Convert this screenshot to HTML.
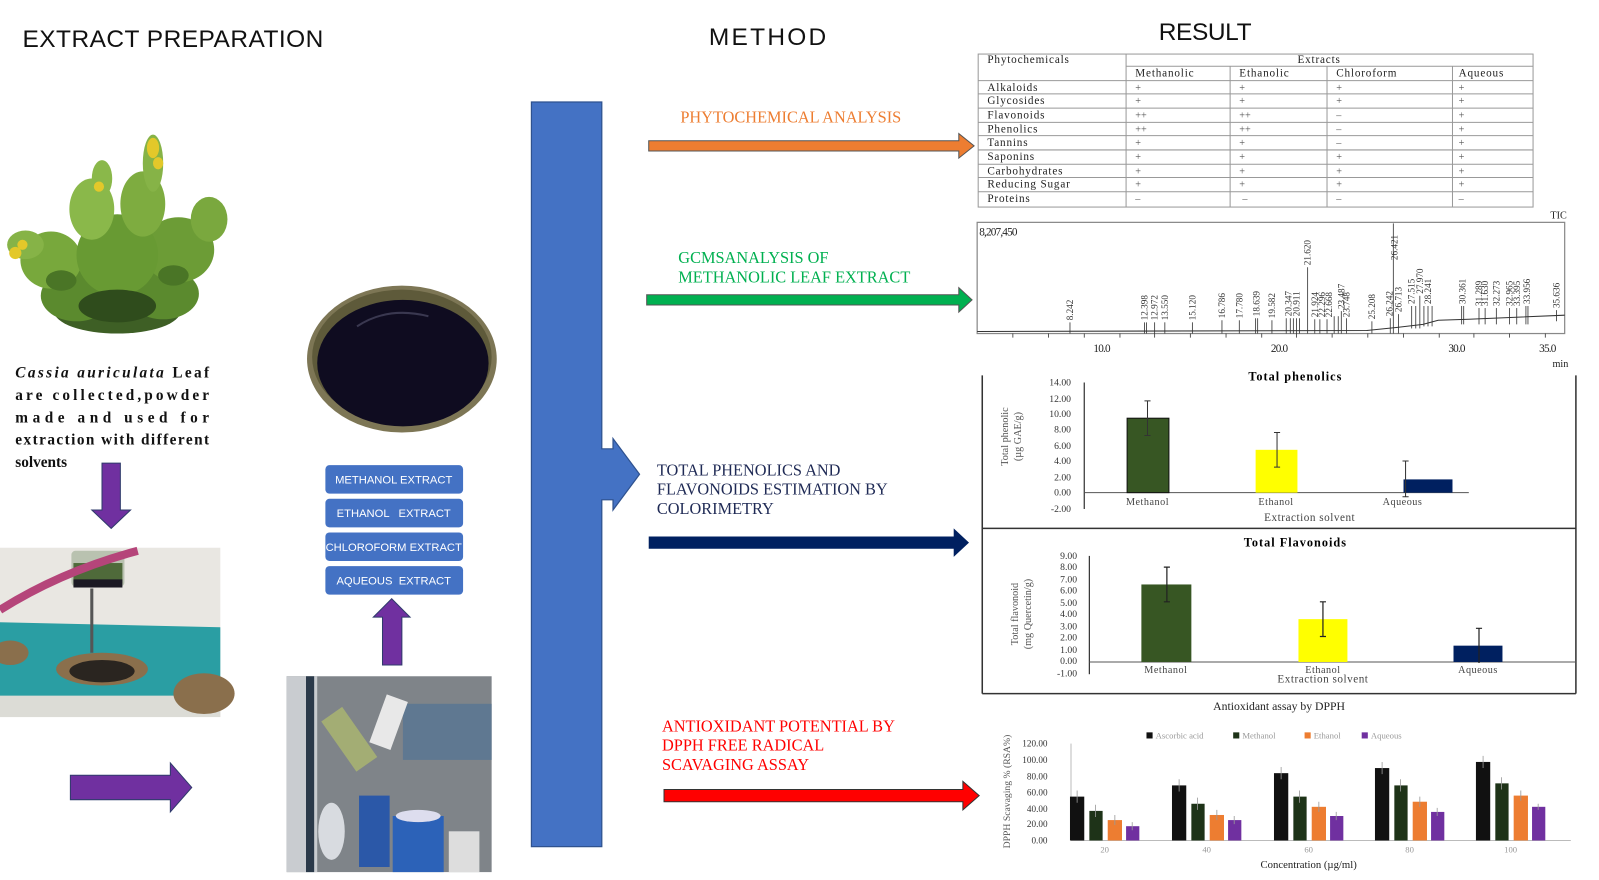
<!DOCTYPE html>
<html><head><meta charset="utf-8"><style>
html,body{margin:0;padding:0;background:#fff;}
svg{display:block;}
.s{font-family:"Liberation Sans",sans-serif;}
.r{font-family:"Liberation Serif",serif;}
</style></head><body>
<svg width="1599" height="880" viewBox="0 0 1599 880" xmlns="http://www.w3.org/2000/svg">
<rect width="1599" height="880" fill="#fff"/>
<g transform="scale(1.02)">
<!-- headers -->
<text x="22" y="46" class="s" font-size="24" textLength="295" fill="#111">EXTRACT PREPARATION</text>
<text x="695" y="44" class="s" font-size="24" textLength="115" fill="#111">METHOD</text>
<text x="1136" y="39" class="s" font-size="24" textLength="91" fill="#111">RESULT</text>

<!-- plant (bushy shrub) -->
<g>
<ellipse cx="115" cy="305" rx="62" ry="22" fill="#3e5f25"/>
<ellipse cx="75" cy="290" rx="35" ry="25" fill="#5b8a2e"/>
<ellipse cx="160" cy="288" rx="35" ry="25" fill="#5b8a2e"/>
<ellipse cx="50" cy="255" rx="30" ry="28" fill="#78a83c"/>
<ellipse cx="175" cy="245" rx="35" ry="32" fill="#6c9c36"/>
<ellipse cx="115" cy="250" rx="40" ry="40" fill="#689a33"/>
<ellipse cx="25" cy="240" rx="18" ry="14" fill="#86b347"/>
<ellipse cx="205" cy="215" rx="18" ry="22" fill="#7aa83e"/>
<ellipse cx="90" cy="205" rx="22" ry="30" fill="#8ab84a"/>
<ellipse cx="140" cy="200" rx="22" ry="32" fill="#7eac40"/>
<ellipse cx="150" cy="160" rx="10" ry="28" fill="#86b347"/>
<ellipse cx="100" cy="175" rx="10" ry="18" fill="#8ab84a"/>
<ellipse cx="150" cy="145" rx="6" ry="10" fill="#e3c82a"/>
<ellipse cx="155" cy="160" rx="5" ry="6" fill="#e3c82a"/>
<ellipse cx="97" cy="183" rx="5" ry="5" fill="#e3c82a"/>
<ellipse cx="15" cy="248" rx="6" ry="6" fill="#e3c82a"/>
<ellipse cx="22" cy="240" rx="5" ry="5" fill="#e3c82a"/>
<ellipse cx="115" cy="300" rx="38" ry="16" fill="#2f4c1c"/>
<ellipse cx="60" cy="275" rx="15" ry="10" fill="#4a7526"/>
<ellipse cx="170" cy="270" rx="15" ry="10" fill="#4a7526"/>
</g>
<!-- paragraph -->
<g class="r" font-size="15" font-weight="bold" fill="#111">
<text x="15" y="370" textLength="190" lengthAdjust="spacing"><tspan font-style="italic">Cassia auriculata</tspan> Leaf</text>
<text x="15" y="392" textLength="190" lengthAdjust="spacing">are collected,powder</text>
<text x="15" y="414" textLength="190" lengthAdjust="spacing">made and used for</text>
<text x="15" y="436" textLength="190" lengthAdjust="spacing">extraction with different</text>
<text x="15" y="458">solvents</text>
</g>
<!-- purple down arrow -->
<polygon points="100,454 118,454 118,500 128,500 109,518 90,500 100,500" fill="#7030a0" stroke="#2f3b6b" stroke-width="1"/>
<!-- soxhlet photo -->
<g>
<rect x="0" y="537" width="216" height="166" fill="#e9e7e2"/>
<polygon points="0,610 216,615 216,690 0,690" fill="#2a9ea3"/>
<rect x="0" y="682" width="216" height="21" fill="#dcdcd6"/>
<ellipse cx="100" cy="656" rx="45" ry="16" fill="#8a6f4c"/>
<ellipse cx="100" cy="658" rx="32" ry="11" fill="#2a2520"/>
<ellipse cx="200" cy="680" rx="30" ry="20" fill="#8a6f4c"/>
<ellipse cx="10" cy="640" rx="18" ry="12" fill="#8a6f4c"/>
<rect x="70" y="540" width="52" height="35" rx="4" fill="#b9c2b0"/>
<rect x="72" y="552" width="48" height="20" fill="#4f6a3a"/>
<rect x="72" y="568" width="48" height="8" fill="#1c1a24"/>
<path d="M90,577 V640" stroke="#555" stroke-width="3"/>
<path d="M0,598 Q60,560 135,540" stroke="#b5457a" stroke-width="8" fill="none"/>
</g>
<!-- purple right arrow -->
<polygon points="69,760 167,760 167,748 188,772 167,796 167,784 69,784" fill="#7030a0" stroke="#2f3b6b" stroke-width="1"/>
<!-- rotary photo -->
<g>
<rect x="281" y="663" width="201" height="192" fill="#7f8489"/>
<rect x="281" y="663" width="30" height="192" fill="#c9ccd0"/>
<rect x="300" y="663" width="8" height="192" fill="#2b3a4a"/>
<rect x="395" y="690" width="87" height="55" fill="#5f7891"/>
<rect x="330" y="695" width="25" height="60" fill="#a3ad74" transform="rotate(-35 342 725)"/>
<rect x="370" y="683" width="22" height="50" fill="#e8e8e8" transform="rotate(20 381 708)"/>
<rect x="352" y="780" width="30" height="70" fill="#2b58a8"/>
<rect x="385" y="800" width="50" height="55" fill="#2c62b8"/>
<ellipse cx="410" cy="800" rx="22" ry="6" fill="#dde"/>
<ellipse cx="325" cy="815" rx="13" ry="28" fill="#d8dbe0"/>
<rect x="440" y="815" width="30" height="40" fill="#ddd"/>
</g>
<!-- up arrow -->
<polygon points="375,652 394,652 394,605 402,605 384,587 366,605 375,605" fill="#7030a0" stroke="#2f3b6b" stroke-width="1"/>
<!-- extract boxes -->
<g class="s" font-size="11" fill="#fff" text-anchor="middle">
<rect x="319" y="456" width="135" height="28" rx="4" fill="#4472c4"/>
<text x="386" y="474">METHANOL EXTRACT</text>
<rect x="319" y="489" width="135" height="28" rx="4" fill="#4472c4"/>
<text x="386" y="507" xml:space="preserve">ETHANOL   EXTRACT</text>
<rect x="319" y="522" width="135" height="28" rx="4" fill="#4472c4"/>
<text x="386" y="540">CHLOROFORM EXTRACT</text>
<rect x="319" y="555" width="135" height="28" rx="4" fill="#4472c4"/>
<text x="386" y="573" xml:space="preserve">AQUEOUS  EXTRACT</text>
</g>
<!-- petri dish -->
<ellipse cx="394" cy="352" rx="93" ry="72" fill="#7d7655"/>
<ellipse cx="394" cy="350" rx="88" ry="66" fill="#5e5a3a"/>
<ellipse cx="395" cy="356" rx="84" ry="62" fill="#0f0c20"/>
<path d="M350,320 Q380,300 420,310" stroke="#3a3850" stroke-width="2" fill="none"/>

<!-- big blue bar + arrow -->
<polygon points="521,100 590,100 590,440 601,440 601,430 627,465 601,500 601,490 590,490 590,830 521,830" fill="#4472c4" stroke="#2f528f" stroke-width="1.2"/>

<!-- method labels & arrows -->
<g class="r" font-size="16">
<text x="667" y="120" fill="#ed7d31">PHYTOCHEMICAL ANALYSIS</text>
<text x="665" y="258" fill="#00b050">GCMSANALYSIS OF</text>
<text x="665" y="277" fill="#00b050">METHANOLIC LEAF EXTRACT</text>
<text x="644" y="466" fill="#1f2a55">TOTAL PHENOLICS AND</text>
<text x="644" y="485" fill="#1f2a55">FLAVONOIDS ESTIMATION BY</text>
<text x="644" y="504" fill="#1f2a55">COLORIMETRY</text>
<text x="649" y="717" fill="#ff0000">ANTIOXIDANT POTENTIAL BY</text>
<text x="649" y="736" fill="#ff0000">DPPH FREE RADICAL</text>
<text x="649" y="755" fill="#ff0000">SCAVAGING ASSAY</text>
</g>
<polygon points="636,138 940,138 940,131 955,143 940,155 940,148 636,148" fill="#ed7d31" stroke="#555" stroke-width="1"/>
<polygon points="634,289 940,289 940,282 953,294 940,306 940,299 634,299" fill="#00b050" stroke="#555" stroke-width="1"/>
<polygon points="636,526 935,526 935,518 950,532 935,546 935,538 636,538" fill="#002060"/>
<polygon points="651,774 944,774 944,766 960,780 944,794 944,786 651,786" fill="#ff0000" stroke="#333" stroke-width="1"/>

<!-- table -->
<g stroke="#999" stroke-width="1" fill="none">
<rect x="959" y="53" width="544" height="150"/>
<line x1="1104" y1="53" x2="1104" y2="203"/>
<line x1="1104" y1="65" x2="1503" y2="65"/>
<line x1="959" y1="79" x2="1503" y2="79"/>
<line x1="959" y1="92" x2="1503" y2="92"/>
<line x1="959" y1="106" x2="1503" y2="106"/>
<line x1="959" y1="120" x2="1503" y2="120"/>
<line x1="959" y1="133" x2="1503" y2="133"/>
<line x1="959" y1="147" x2="1503" y2="147"/>
<line x1="959" y1="161" x2="1503" y2="161"/>
<line x1="959" y1="174" x2="1503" y2="174"/>
<line x1="959" y1="188" x2="1503" y2="188"/>
<line x1="1206" y1="65" x2="1206" y2="203"/>
<line x1="1301" y1="65" x2="1301" y2="203"/>
<line x1="1424" y1="65" x2="1424" y2="203"/>
</g>
<g class="r" font-size="11" fill="#222" letter-spacing="0.8">
<text x="968" y="62">Phytochemicals</text>
<text x="1272" y="62">Extracts</text>
<text x="1113" y="75">Methanolic</text><text x="1215" y="75">Ethanolic</text><text x="1310" y="75">Chloroform</text><text x="1430" y="75">Aqueous</text>
<text x="968" y="89">Alkaloids</text>
<text x="968" y="102">Glycosides</text>
<text x="968" y="116">Flavonoids</text>
<text x="968" y="130">Phenolics</text>
<text x="968" y="143">Tannins</text>
<text x="968" y="157">Saponins</text>
<text x="968" y="171">Carbohydrates</text>
<text x="968" y="184">Reducing Sugar</text>
<text x="968" y="198">Proteins</text>
</g>
<g class="r" font-size="10" fill="#555">
<text x="1113" y="89">+</text><text x="1215" y="89">+</text><text x="1310" y="89">+</text><text x="1430" y="89">+</text>
<text x="1113" y="102">+</text><text x="1215" y="102">+</text><text x="1310" y="102">+</text><text x="1430" y="102">+</text>
<text x="1113" y="116">++</text><text x="1215" y="116">++</text><text x="1310" y="116">–</text><text x="1430" y="116">+</text>
<text x="1113" y="130">++</text><text x="1215" y="130">++</text><text x="1310" y="130">–</text><text x="1430" y="130">+</text>
<text x="1113" y="143">+</text><text x="1215" y="143">+</text><text x="1310" y="143">–</text><text x="1430" y="143">+</text>
<text x="1113" y="157">+</text><text x="1215" y="157">+</text><text x="1310" y="157">+</text><text x="1430" y="157">+</text>
<text x="1113" y="171">+</text><text x="1215" y="171">+</text><text x="1310" y="171">+</text><text x="1430" y="171">+</text>
<text x="1113" y="184">+</text><text x="1215" y="184">+</text><text x="1310" y="184">+</text><text x="1430" y="184">+</text>
<text x="1113" y="198">–</text><text x="1218" y="198">–</text><text x="1310" y="198">–</text><text x="1430" y="198">–</text>
</g>

<!-- GCMS -->
<rect x="958" y="218" width="576" height="109" fill="none" stroke="#888" stroke-width="1.2"/>
<text x="1520" y="214" class="r" font-size="10" fill="#222">TIC</text>
<text x="960" y="231" class="r" font-size="11" fill="#222" letter-spacing="-0.8">8,207,450</text>
<path d="M958,325 L1340,324 L1370,321 L1395,318 L1410,314 L1440,313 L1534,309" stroke="#333" stroke-width="1" fill="none"/>
<g stroke="#333" stroke-width="0.8">
<line x1="1049" y1="327" x2="1049" y2="316"/><line x1="1122" y1="327" x2="1122" y2="316"/><line x1="1124" y1="327" x2="1124" y2="316"/>
<line x1="1132" y1="327" x2="1132" y2="316"/><line x1="1142" y1="327" x2="1142" y2="316"/><line x1="1169" y1="327" x2="1169" y2="316"/>
<line x1="1198" y1="327" x2="1198" y2="314"/><line x1="1215" y1="327" x2="1215" y2="314"/><line x1="1231" y1="327" x2="1231" y2="312"/>
<line x1="1233" y1="327" x2="1233" y2="312"/><line x1="1247" y1="327" x2="1247" y2="314"/><line x1="1261" y1="327" x2="1261" y2="312"/>
<line x1="1265" y1="327" x2="1265" y2="312"/><line x1="1268" y1="327" x2="1268" y2="312"/><line x1="1271" y1="327" x2="1271" y2="312"/>
<line x1="1274" y1="327" x2="1274" y2="312"/><line x1="1282" y1="327" x2="1282" y2="262"/><line x1="1289" y1="327" x2="1289" y2="313"/>
<line x1="1294" y1="327" x2="1294" y2="313"/><line x1="1301" y1="327" x2="1301" y2="313"/><line x1="1308" y1="327" x2="1308" y2="310"/>
<line x1="1312" y1="327" x2="1312" y2="310"/><line x1="1315" y1="327" x2="1315" y2="305"/><line x1="1320" y1="327" x2="1320" y2="312"/>
<line x1="1345" y1="327" x2="1345" y2="315"/><line x1="1363" y1="327" x2="1363" y2="312"/><line x1="1366" y1="327" x2="1366" y2="219"/>
<line x1="1371" y1="327" x2="1371" y2="308"/><line x1="1384" y1="322" x2="1384" y2="300"/><line x1="1388" y1="322" x2="1388" y2="300"/>
<line x1="1392" y1="322" x2="1392" y2="290"/><line x1="1396" y1="320" x2="1396" y2="300"/><line x1="1400" y1="320" x2="1400" y2="300"/>
<line x1="1404" y1="320" x2="1404" y2="300"/><line x1="1433" y1="318" x2="1433" y2="300"/><line x1="1435" y1="318" x2="1435" y2="300"/>
<line x1="1450" y1="318" x2="1450" y2="302"/><line x1="1456" y1="318" x2="1456" y2="302"/><line x1="1467" y1="318" x2="1467" y2="302"/>
<line x1="1480" y1="318" x2="1480" y2="302"/><line x1="1487" y1="318" x2="1487" y2="302"/><line x1="1496" y1="318" x2="1496" y2="300"/>
<line x1="1498" y1="318" x2="1498" y2="300"/><line x1="1526" y1="315" x2="1526" y2="304"/>
</g>
<g class="r" font-size="9" fill="#333">
<text transform="translate(1052,314) rotate(-90)">8.242</text>
<text transform="translate(1125,314) rotate(-90)">12.398</text>
<text transform="translate(1135,314) rotate(-90)">12.972</text>
<text transform="translate(1145,314) rotate(-90)">13.550</text>
<text transform="translate(1172,314) rotate(-90)">15.120</text>
<text transform="translate(1201,312) rotate(-90)">16.786</text>
<text transform="translate(1218,312) rotate(-90)">17.780</text>
<text transform="translate(1235,310) rotate(-90)">18.639</text>
<text transform="translate(1250,312) rotate(-90)">19.582</text>
<text transform="translate(1266,310) rotate(-90)">20.347</text>
<text transform="translate(1274,310) rotate(-90)">20.911</text>
<text transform="translate(1285,260) rotate(-90)">21.620</text>
<text transform="translate(1292,311) rotate(-90)">21.924</text>
<text transform="translate(1299,311) rotate(-90)">22.296</text>
<text transform="translate(1306,311) rotate(-90)">22.668</text>
<text transform="translate(1318,303) rotate(-90)">23.487</text>
<text transform="translate(1323,311) rotate(-90)">23.748</text>
<text transform="translate(1348,313) rotate(-90)">25.208</text>
<text transform="translate(1365,310) rotate(-90)">26.242</text>
<text transform="translate(1374,306) rotate(-90)">26.713</text>
<text transform="translate(1370,255) rotate(-90)">26.421</text>
<text transform="translate(1387,298) rotate(-90)">27.515</text>
<text transform="translate(1395,288) rotate(-90)">27.970</text>
<text transform="translate(1403,298) rotate(-90)">28.241</text>
<text transform="translate(1437,298) rotate(-90)">30.361</text>
<text transform="translate(1453,300) rotate(-90)">31.289</text>
<text transform="translate(1459,300) rotate(-90)">31.630</text>
<text transform="translate(1470,300) rotate(-90)">32.273</text>
<text transform="translate(1483,300) rotate(-90)">32.965</text>
<text transform="translate(1490,300) rotate(-90)">33.395</text>
<text transform="translate(1500,298) rotate(-90)">33.956</text>
<text transform="translate(1529,302) rotate(-90)">35.636</text>
</g>
<g stroke="#333" stroke-width="0.8">
<line x1="993" y1="327" x2="993" y2="331"/><line x1="1028" y1="327" x2="1028" y2="331"/><line x1="1063" y1="327" x2="1063" y2="331"/>
<line x1="1098" y1="327" x2="1098" y2="331"/><line x1="1132" y1="327" x2="1132" y2="331"/><line x1="1167" y1="327" x2="1167" y2="331"/>
<line x1="1202" y1="327" x2="1202" y2="331"/><line x1="1237" y1="327" x2="1237" y2="331"/><line x1="1271" y1="327" x2="1271" y2="331"/>
<line x1="1306" y1="327" x2="1306" y2="331"/><line x1="1341" y1="327" x2="1341" y2="331"/><line x1="1376" y1="327" x2="1376" y2="331"/>
<line x1="1411" y1="327" x2="1411" y2="331"/><line x1="1445" y1="327" x2="1445" y2="331"/><line x1="1480" y1="327" x2="1480" y2="331"/><line x1="1515" y1="327" x2="1515" y2="331"/>
</g>
<g class="r" font-size="11" fill="#222" letter-spacing="-0.8" text-anchor="middle">
<text x="1080" y="345">10.0</text><text x="1254" y="345">20.0</text><text x="1428" y="345">30.0</text><text x="1517" y="345">35.0</text>
</g>
<text x="1522" y="360" class="r" font-size="10" fill="#222">min</text>

<!-- phenolics frame -->
<g stroke="#333" stroke-width="1.5" fill="none">
<line x1="963" y1="368" x2="963" y2="680"/>
<line x1="963" y1="518" x2="1545" y2="518"/>
<line x1="1545" y1="368" x2="1545" y2="680"/>
<line x1="963" y1="680" x2="1545" y2="680"/>
</g>
<text x="1270" y="373" class="r" font-size="12" font-weight="bold" text-anchor="middle" letter-spacing="1">Total phenolics</text>
<line x1="1063" y1="375" x2="1063" y2="499" stroke="#333" stroke-width="1.2"/>
<line x1="1063" y1="483" x2="1440" y2="483" stroke="#555" stroke-width="1"/>
<g class="r" font-size="9.5" fill="#333" text-anchor="end">
<text x="1050" y="378">14.00</text><text x="1050" y="394">12.00</text><text x="1050" y="409">10.00</text><text x="1050" y="424">8.00</text>
<text x="1050" y="440">6.00</text><text x="1050" y="455">4.00</text><text x="1050" y="471">2.00</text><text x="1050" y="486">0.00</text><text x="1050" y="502">-2.00</text>
</g>
<rect x="1105" y="410" width="41" height="73" fill="#375623" stroke="#111" stroke-width="1"/>
<rect x="1231" y="441" width="41" height="42" fill="#ffff00"/>
<rect x="1376" y="470" width="48" height="13" fill="#002060"/>
<g stroke="#333" stroke-width="1">
<path d="M1125,393 V427 M1122,393 H1128 M1122,427 H1128"/>
<path d="M1252,424 V458 M1249,424 H1255 M1249,458 H1255"/>
<path d="M1378,452 V487 M1375,452 H1381 M1375,487 H1381"/>
</g>
<g class="r" font-size="10" fill="#444" text-anchor="middle" letter-spacing="0.5">
<text x="1125" y="495">Methanol</text><text x="1251" y="495">Ethanol</text><text x="1375" y="495">Aqueous</text>
<text x="1284" y="511" font-size="11">Extraction solvent</text>
</g>
<g class="r" font-size="10" fill="#555" text-anchor="middle">
<text transform="translate(988,428) rotate(-90)">Total phenolic</text>
<text transform="translate(1001,428) rotate(-90)">(µg GAE/g)</text>
</g>

<!-- flavonoids -->
<text x="1270" y="536" class="r" font-size="12" font-weight="bold" text-anchor="middle" letter-spacing="1">Total Flavonoids</text>
<line x1="1068" y1="545" x2="1068" y2="661" stroke="#333" stroke-width="1.2"/>
<line x1="1068" y1="649" x2="1545" y2="649" stroke="#555" stroke-width="1"/>
<g class="r" font-size="9.5" fill="#333" text-anchor="end">
<text x="1056" y="548">9.00</text><text x="1056" y="559">8.00</text><text x="1056" y="571">7.00</text><text x="1056" y="582">6.00</text>
<text x="1056" y="594">5.00</text><text x="1056" y="605">4.00</text><text x="1056" y="617">3.00</text><text x="1056" y="628">2.00</text>
<text x="1056" y="640">1.00</text><text x="1056" y="651">0.00</text><text x="1056" y="663">-1.00</text>
</g>
<rect x="1119" y="573" width="49" height="76" fill="#375623"/>
<rect x="1273" y="607" width="48" height="42" fill="#ffff00"/>
<rect x="1425" y="633" width="48" height="16" fill="#002060"/>
<g stroke="#222" stroke-width="1.2">
<path d="M1144,556 V590 M1141,556 H1147 M1141,590 H1147"/>
<path d="M1297,590 V624 M1294,590 H1300 M1294,624 H1300"/>
<path d="M1450,616 V650 M1447,616 H1453"/>
</g>
<g class="r" font-size="10" fill="#444" text-anchor="middle" letter-spacing="0.5">
<text x="1143" y="660">Methanol</text><text x="1297" y="660">Ethanol</text><text x="1449" y="660">Aqueous</text>
<text x="1297" y="669" font-size="11">Extraction solvent</text>
</g>
<g class="r" font-size="10" fill="#555" text-anchor="middle">
<text transform="translate(998,602) rotate(-90)">Total flavonoid</text>
<text transform="translate(1011,602) rotate(-90)">(mg Quercetin/g)</text>
</g>

<!-- DPPH -->
<text x="1254" y="696" class="r" font-size="11.5" text-anchor="middle" fill="#222">Antioxidant assay by DPPH</text>
<g class="r" font-size="8.5" fill="#999">
<rect x="1124" y="718" width="6" height="6" fill="#111"/><text x="1133" y="724">Ascorbic acid</text>
<rect x="1209" y="718" width="6" height="6" fill="#1e3318"/><text x="1218" y="724">Methanol</text>
<rect x="1279" y="718" width="6" height="6" fill="#ed7d31"/><text x="1288" y="724">Ethanol</text>
<rect x="1335" y="718" width="6" height="6" fill="#7030a0"/><text x="1344" y="724">Aqueous</text>
</g>
<line x1="1050" y1="729" x2="1050" y2="824" stroke="#bbb" stroke-width="1"/>
<line x1="1050" y1="824" x2="1540" y2="824" stroke="#bbb" stroke-width="1"/>
<g class="r" font-size="9" fill="#333" text-anchor="end">
<text x="1027" y="732">120.00</text><text x="1027" y="748">100.00</text><text x="1027" y="764">80.00</text><text x="1027" y="780">60.00</text>
<text x="1027" y="796">40.00</text><text x="1027" y="811">20.00</text><text x="1027" y="827">0.00</text>
</g>
<text transform="translate(990,776) rotate(-90)" class="r" font-size="9.5" fill="#555" text-anchor="middle">DPPH Scavaging % (RSA%)</text>
<g>
<rect x="1049" y="781" width="14" height="43" fill="#111"/><rect x="1068" y="795" width="13" height="29" fill="#1e3318"/><rect x="1086" y="804" width="14" height="20" fill="#ed7d31"/><rect x="1104" y="810" width="13" height="14" fill="#7030a0"/>
<rect x="1149" y="770" width="14" height="54" fill="#111"/><rect x="1168" y="788" width="13" height="36" fill="#1e3318"/><rect x="1186" y="799" width="14" height="25" fill="#ed7d31"/><rect x="1204" y="804" width="13" height="20" fill="#7030a0"/>
<rect x="1249" y="758" width="14" height="66" fill="#111"/><rect x="1268" y="781" width="13" height="43" fill="#1e3318"/><rect x="1286" y="791" width="14" height="33" fill="#ed7d31"/><rect x="1304" y="800" width="13" height="24" fill="#7030a0"/>
<rect x="1348" y="753" width="14" height="71" fill="#111"/><rect x="1367" y="770" width="13" height="54" fill="#1e3318"/><rect x="1385" y="786" width="14" height="38" fill="#ed7d31"/><rect x="1403" y="796" width="13" height="28" fill="#7030a0"/>
<rect x="1447" y="747" width="14" height="77" fill="#111"/><rect x="1466" y="768" width="13" height="56" fill="#1e3318"/><rect x="1484" y="780" width="14" height="44" fill="#ed7d31"/><rect x="1502" y="791" width="13" height="33" fill="#7030a0"/>
</g>
<g stroke="#999" stroke-width="0.8">
<path d="M1056,775 V787 M1074,789 V801 M1093,799 V809 M1110,806 V814"/>
<path d="M1156,764 V776 M1174,782 V794 M1193,794 V804 M1210,800 V808"/>
<path d="M1256,752 V764 M1274,775 V787 M1293,786 V796 M1310,796 V804"/>
<path d="M1355,747 V759 M1373,764 V776 M1392,781 V791 M1409,792 V800"/>
<path d="M1454,741 V753 M1472,762 V774 M1491,775 V785 M1508,788 V794"/>
</g>
<g class="r" font-size="8.5" fill="#999" text-anchor="middle">
<text x="1083" y="836">20</text><text x="1183" y="836">40</text><text x="1283" y="836">60</text><text x="1382" y="836">80</text><text x="1481" y="836">100</text>
</g>
<text x="1283" y="851" class="r" font-size="10.5" text-anchor="middle" fill="#222">Concentration (µg/ml)</text>
</g>
</svg>
</body></html>
